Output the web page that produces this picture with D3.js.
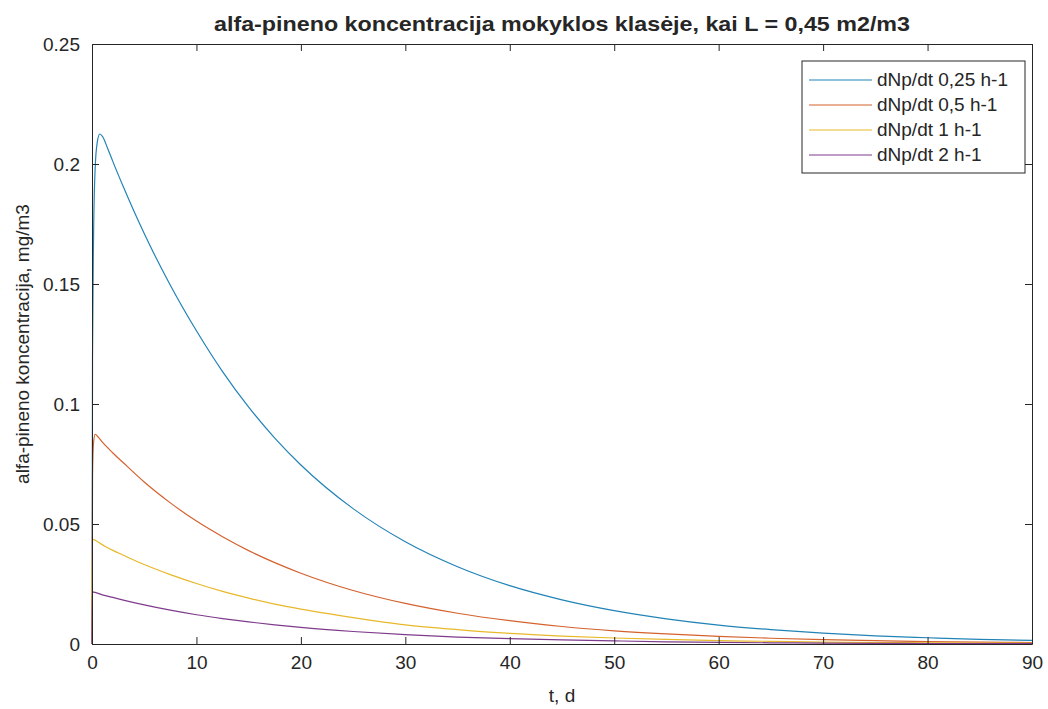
<!DOCTYPE html>
<html>
<head>
<meta charset="utf-8">
<script src="https://cdn.jsdelivr.net/npm/d3@7"></script>
<style>
  body { margin: 0; background: #fff; }
  text { font-family: "Liberation Sans", Arial, Helvetica, sans-serif; fill: #262626; }
</style>
</head>
<body>
<div id="chart"></div>
<script>
// values (t in days, concentration in mg/m3)
var tBlue = [0, 0.05, 0.15, 0.3, 0.5, 0.75, 1, 1.5, 2, 3, 4, 5, 7.5, 10, 12.5, 15, 17.5, 20, 25, 30, 35, 40, 45, 50, 55, 60, 65, 70, 75, 80, 85, 90];
var cBlue = [0, 0.12, 0.17, 0.198, 0.209, 0.2125, 0.2115, 0.2065, 0.201, 0.1905, 0.1805, 0.171, 0.1495, 0.1305, 0.1135, 0.0987, 0.0858, 0.0746, 0.0564, 0.0426, 0.0322, 0.0243, 0.0184, 0.0139, 0.0105, 0.0079, 0.0060, 0.0045, 0.0034, 0.0026, 0.0019, 0.0015];

var tOrange = [0, 0.05, 0.15, 0.3, 0.6, 1, 2, 3, 5, 7.5, 10, 12.5, 15, 17.5, 20, 25, 30, 35, 40, 45, 50, 55, 60, 65, 70, 75, 80, 85, 90];
var cOrange = [0, 0.07, 0.084, 0.0874, 0.0862, 0.0841, 0.0796, 0.0755, 0.0675, 0.0588, 0.0512, 0.0447, 0.0389, 0.0339, 0.0295, 0.0223, 0.0169, 0.0128, 0.0097, 0.0073, 0.0055, 0.0042, 0.0032, 0.0024, 0.0018, 0.0014, 0.0010, 0.0008, 0.0006];

var tYellow = [0, 0.03, 1, 2, 3, 5, 7.5, 10, 12.5, 15, 17.5, 20, 25, 30, 35, 40, 45, 50, 55, 60, 65, 70, 75, 80, 85, 90];
var cYellow = [0, 0.0436, 0.0413, 0.0390, 0.0370, 0.0331, 0.0289, 0.0252, 0.0219, 0.0191, 0.0166, 0.0145, 0.0110, 0.0080, 0.0060, 0.0044, 0.0033, 0.0025, 0.0019, 0.0014, 0.0011, 0.0008, 0.0006, 0.0005, 0.0004, 0.0003];

var tPurple = [0, 0.03, 1, 2, 3, 5, 7.5, 10, 12.5, 15, 17.5, 20, 25, 30, 35, 40, 45, 50, 55, 60, 65, 70, 75, 80, 85, 90];
var cPurple = [0, 0.0217, 0.0205, 0.0194, 0.0183, 0.0163, 0.0141, 0.0122, 0.0106, 0.0092, 0.0080, 0.0069, 0.0052, 0.0039, 0.0029, 0.0022, 0.0017, 0.0013, 0.0009, 0.0007, 0.0005, 0.0004, 0.0003, 0.0002, 0.00017, 0.00013];

var seriesNames = ["dNp/dt 0,25 h-1", "dNp/dt 0,5 h-1", "dNp/dt 1 h-1", "dNp/dt 2 h-1"];
var xTicks = [0, 10, 20, 30, 40, 50, 60, 70, 80, 90];
var yTicks = [0, 0.05, 0.1, 0.15, 0.2, 0.25];

var titleText = "alfa-pineno koncentracija mokyklos klasėje, kai L = 0,45 m2/m3";
var xLabel = "t, d";
var yLabel = "alfa-pineno koncentracija, mg/m3";

var colors = ["#2283b6", "#d4622e", "#e8b82a", "#7e3b8c"];

var svg = d3.select('#chart').append('svg').attr("width", 1048).attr("height", 709);

// plot box
var mLeft = 92, mRight = 1032, mTop = 44, mBottom = 644;
var tickLen = 7;

var x_scale = d3.scaleLinear().domain([0, 90]).range([mLeft, mRight]);
var y_scale = d3.scaleLinear().domain([0, 0.25]).range([mBottom, mTop]);

var series = [
    { name: seriesNames[0], t: tBlue, c: cBlue },
    { name: seriesNames[1], t: tOrange, c: cOrange },
    { name: seriesNames[2], t: tYellow, c: cYellow },
    { name: seriesNames[3], t: tPurple, c: cPurple }
];

var line = d3.line()
    .x(function (d) { return x_scale(d[0]); })
    .y(function (d) { return y_scale(d[1]); })
    .curve(d3.curveMonotoneX);

// curves
series.forEach(function (s, i) {
    var pts = s.t.map(function (t, j) { return [t, s.c[j]]; });
    svg.append("path")
        .attr("d", line(pts))
        .attr("fill", "none")
        .attr("stroke", colors[i])
        .attr("stroke-width", 1.2);
});

// axes, matlab style: ticks pointing in, box all round
var fmt = function (d) { return d3.format("~g")(d); };
var xBottom = d3.axisBottom(x_scale).tickValues(xTicks).tickSizeInner(-tickLen).tickSizeOuter(0).tickPadding(12).tickFormat(fmt);
var xTop = d3.axisTop(x_scale).tickValues(xTicks).tickSizeInner(-tickLen).tickSizeOuter(0).tickFormat("");
var yLeft = d3.axisLeft(y_scale).tickValues(yTicks).tickSizeInner(-tickLen).tickSizeOuter(0).tickPadding(12).tickFormat(fmt);
var yRight = d3.axisRight(y_scale).tickValues(yTicks).tickSizeInner(-tickLen).tickSizeOuter(0).tickFormat("");

function styleAxis(g) {
    g.selectAll("path").attr("stroke", "#262626");
    g.selectAll("line").attr("stroke", "#262626");
    g.selectAll("text").style("font-size", "19px").attr("fill", "#262626")
        .style("font-family", '"Liberation Sans", Arial, sans-serif');
}

svg.append("g").attr("transform", "translate(0," + mBottom + ")").call(xBottom).call(styleAxis);
svg.append("g").attr("transform", "translate(0," + mTop + ")").call(xTop).call(styleAxis);
svg.append("g").attr("transform", "translate(" + mLeft + ",0)").call(yLeft).call(styleAxis);
svg.append("g").attr("transform", "translate(" + mRight + ",0)").call(yRight).call(styleAxis);

// title and labels
svg.append("text")
    .attr("x", (mLeft + mRight) / 2)
    .attr("y", 31)
    .attr("text-anchor", "middle")
    .attr("textLength", 696)
    .attr("lengthAdjust", "spacingAndGlyphs")
    .style("font-size", "21px")
    .style("font-weight", "bold")
    .text(titleText);

svg.append("text")
    .attr("x", (mLeft + mRight) / 2)
    .attr("y", 702)
    .attr("text-anchor", "middle")
    .style("font-size", "19px")
    .text(xLabel);

svg.append("text")
    .attr("transform", "translate(29," + ((mTop + mBottom) / 2) + ") rotate(-90)")
    .attr("text-anchor", "middle")
    .style("font-size", "19px")
    .text(yLabel);

// legend
var legend = svg.append("g").attr("transform", "translate(802,61)");
legend.append("rect")
    .attr("width", 223).attr("height", 112)
    .attr("fill", "#fff").attr("stroke", "#262626").attr("stroke-width", 1);
series.forEach(function (s, i) {
    var yy = 19 + i * 25;
    legend.append("line")
        .attr("x1", 7).attr("x2", 70)
        .attr("y1", yy).attr("y2", yy)
        .attr("stroke", colors[i]).attr("stroke-width", 1.2);
    legend.append("text")
        .attr("x", 75).attr("y", yy + 6)
        .style("font-size", "19px")
        .text(s.name);
});
</script>
</body>
</html>
